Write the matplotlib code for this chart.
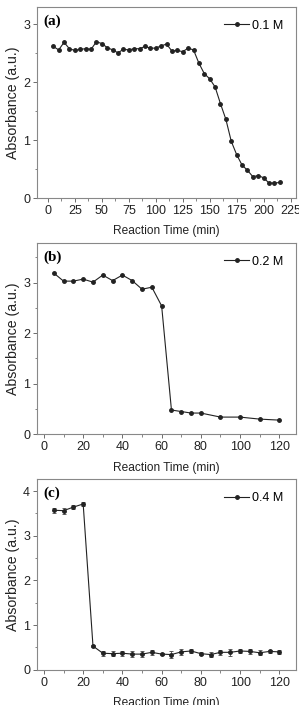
import matplotlib
matplotlib.use("Agg")
import matplotlib.pyplot as plt
from matplotlib.ticker import MultipleLocator

plt.rcParams['font.family'] = ['Liberation Sans', 'DejaVu Sans']
plt.rcParams['font.size'] = 9

# panel (a) 0.1 M
time_a = list(range(5, 220, 5))
abs_a = [2.62, 2.56, 2.69, 2.58, 2.55, 2.57, 2.58, 2.57, 2.70, 2.67,
         2.60, 2.56, 2.51, 2.57, 2.56, 2.58, 2.58, 2.62, 2.59, 2.59,
         2.63, 2.66, 2.54, 2.55, 2.53, 2.59, 2.56, 2.33, 2.15, 2.06,
         1.92, 1.63, 1.36, 0.98, 0.75, 0.57, 0.48, 0.37, 0.39, 0.35,
         0.26, 0.26, 0.27]

# panel (b) 0.2 M
time_b = [5, 10, 15, 20, 25, 30, 35, 40, 45, 50, 55, 60, 65, 70, 75, 80,
          90, 100, 110, 120]
abs_b = [3.19, 3.03, 3.03, 3.07, 3.01, 3.15, 3.04, 3.15, 3.04, 2.87,
         2.91, 2.54, 0.48, 0.45, 0.42, 0.42, 0.34, 0.34, 0.30, 0.28]

# panel (c) 0.4 M, with error bars
time_c = list(range(5, 125, 5))
abs_c = [3.57, 3.56, 3.64, 3.71, 0.53, 0.37, 0.36, 0.37, 0.35, 0.35,
         0.39, 0.35, 0.34, 0.40, 0.42, 0.36, 0.34, 0.39, 0.39, 0.42,
         0.41, 0.38, 0.41, 0.40]
err_c = [0.06, 0.07, 0.04, 0.04, 0.02, 0.06, 0.05, 0.06, 0.07, 0.06,
         0.05, 0.02, 0.08, 0.07, 0.04, 0.04, 0.06, 0.05, 0.08, 0.04,
         0.05, 0.06, 0.04, 0.05]

fig = plt.figure(figsize=(2.99, 7.05), dpi=100, facecolor='white')

panels = [
    ([0.124, 0.719, 0.866, 0.271], time_a, abs_a, None, '(a)', '0.1 M',
     (-10, 230), (0, 3.3), 25, 12.5),
    ([0.124, 0.384, 0.866, 0.271], time_b, abs_b, None, '(b)', '0.2 M',
     (-3.5, 128.5), (0, 3.78), 20, 10),
    ([0.124, 0.050, 0.866, 0.270], time_c, abs_c, err_c, '(c)', '0.4 M',
     (-3.5, 128.5), (0, 4.26), 20, 10),
]

edge = '#555555'
ink = '#222222'
for rect, x, y, err, tag, lab, xl, yl, xmaj, xmin in panels:
    ax = fig.add_axes(rect)
    if err is not None:
        ax.errorbar(x, y, yerr=err, fmt='none', elinewidth=0.6, capsize=1.5,
                    capthick=0.6, ecolor='#444444')
    ax.plot(x, y, '-o', color=ink, lw=0.8, ms=2.5, label=lab)
    ax.set_xlim(*xl)
    ax.set_ylim(*yl)
    ax.xaxis.set_major_locator(MultipleLocator(xmaj))
    ax.xaxis.set_minor_locator(MultipleLocator(xmin))
    ax.yaxis.set_major_locator(MultipleLocator(1))
    ax.yaxis.set_minor_locator(MultipleLocator(0.5))
    ax.tick_params(which='both', direction='out', colors=edge,
                   labelcolor=ink, labelsize=9, pad=2)
    ax.tick_params(which='major', length=3, width=0.6)
    ax.tick_params(which='minor', length=1.8, width=0.5)
    for s in ax.spines.values():
        s.set_color('#888888')
        s.set_linewidth(0.8)
    ax.set_xlabel('Reaction Time (min)', fontsize=8.6, color=ink, labelpad=6)
    ax.set_ylabel('Absorbance (a.u.)', fontsize=10.2, color=ink, labelpad=2)
    ax.text(0.025, 0.96, tag, transform=ax.transAxes, ha='left', va='top',
            fontsize=11, fontweight='bold', family='Liberation Serif')
    ax.legend(loc='upper right', frameon=False, fontsize=9, handlelength=2.0,
              borderaxespad=0.6, handletextpad=0.25)

fig.savefig('out.png', dpi=100)
